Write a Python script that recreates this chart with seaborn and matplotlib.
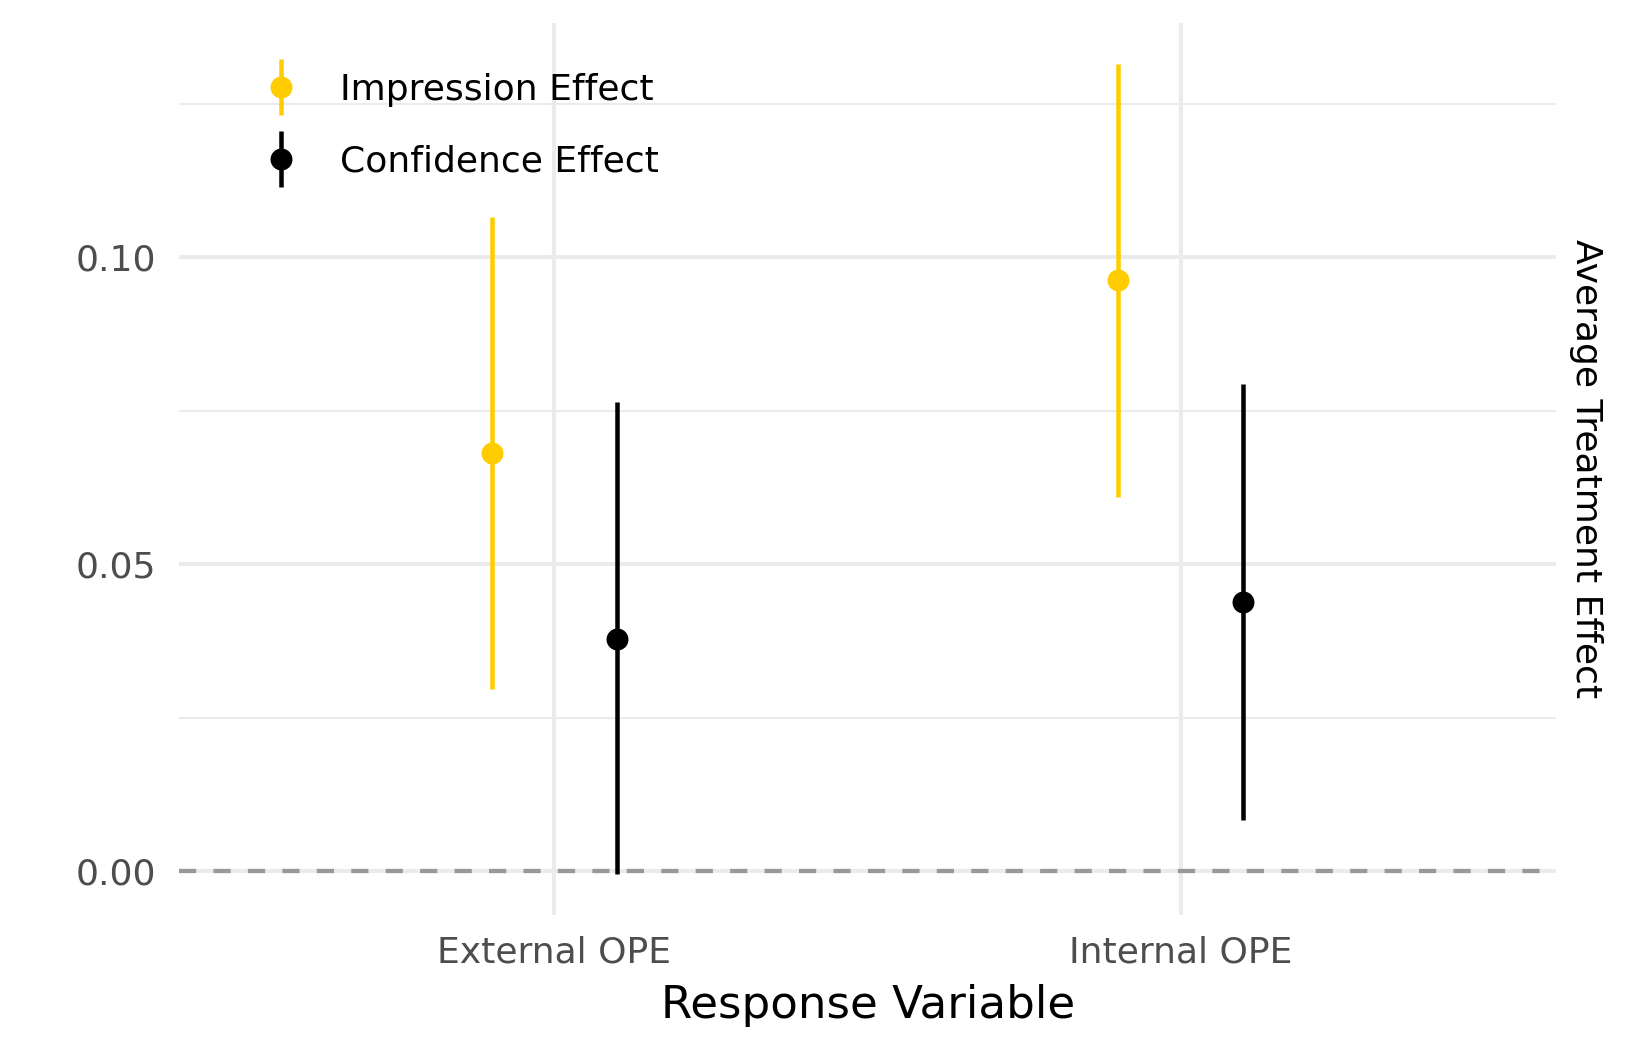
import pandas as pd
import seaborn as sns
import matplotlib.pyplot as plt
from matplotlib.lines import Line2D
from matplotlib.ticker import FixedLocator

# values
responses = ["External OPE", "Internal OPE"]
effects = ["Impression Effect", "Confidence Effect"]
colors = ["#FFCC00", "#000000"]

impression_est = [0.0681, 0.0963]
impression_lo = [0.0297, 0.0610]
impression_hi = [0.1066, 0.1315]

confidence_est = [0.0378, 0.0439]
confidence_lo = [-0.0005, 0.0084]
confidence_hi = [0.0764, 0.0793]

rows = []
for eff, est, lo, hi in [
    (effects[0], impression_est, impression_lo, impression_hi),
    (effects[1], confidence_est, confidence_lo, confidence_hi),
]:
    for resp, e, l, h in zip(responses, est, lo, hi):
        rows.append({"response": resp, "effect": eff, "estimate": e, "lower": l, "upper": h})
df = pd.DataFrame(rows)

sns.set_theme(style="whitegrid")
plt.rcParams["font.family"] = ["DejaVu Sans"]

fig = plt.figure(figsize=(16.49, 10.49), dpi=100)
ax = fig.add_axes([0.1084, 0.1277, 0.9439 - 0.1084, 0.978 - 0.1277])

palette = dict(zip(effects, colors))
sns.pointplot(
    data=df, x="response", y="estimate", hue="effect",
    order=responses, hue_order=effects, palette=palette,
    dodge=0.2, linestyle="none", errorbar=None,
    markersize=15.8, markeredgewidth=0, legend=False, ax=ax,
)

# intervals at the same dodged positions seaborn used
point_lines = list(ax.lines)
for line, eff in zip(point_lines, effects):
    xs = line.get_xdata()
    sub = df[df["effect"] == eff].set_index("response").loc[responses]
    ax.vlines(xs, sub["lower"], sub["upper"], color=palette[eff], lw=3.25, zorder=3)
    line.set_zorder(4)

ax.axhline(0, color="#999999", lw=3.1, ls=(0, (4, 4)), zorder=2.5)

ax.set_xlim(-0.6, 1.6)
ax.set_ylim(-0.0071, 0.1381)
ax.set_yticks([0.0, 0.05, 0.10])
ax.set_yticklabels(["0.00", "0.05", "0.10"])
ax.yaxis.set_minor_locator(FixedLocator([0.025, 0.075, 0.125]))

for s in ax.spines.values():
    s.set_visible(False)
ax.set_facecolor("white")
ax.grid(True, which="major", color="#EBEBEB", lw=2.9)
ax.grid(True, which="minor", axis="y", color="#EBEBEB", lw=1.45)
ax.grid(False, which="minor", axis="x")
ax.set_axisbelow(True)
ax.tick_params(axis="both", which="both", length=0, labelsize=26, labelcolor="#4D4D4D")
ax.tick_params(axis="y", pad=16)
ax.tick_params(axis="x", pad=15)

ax.set_xlabel("Response Variable", fontsize=32.5, color="black", labelpad=10)
ax.set_ylabel("Average Treatment Effect", fontsize=26, color="black", rotation=270)
ax.yaxis.set_label_position("right")
ax.yaxis.label.set_ha("center")
ax.yaxis.label.set_va("center")
ax.yaxis.set_label_coords(1.0215, 0.5)

handles = []
for eff in effects:
    bar = Line2D([], [], ls="none", marker="|", ms=41, mew=3.25, color=palette[eff])
    dot = Line2D([], [], ls="none", marker="o", ms=15.8, mew=0, color=palette[eff])
    handles.append((bar, dot))
ax.legend(
    handles, effects, loc="upper left", bbox_to_anchor=(0.0611, 0.9445),
    frameon=False, fontsize=26, labelcolor="black", handlelength=1.0,
    handletextpad=1.14, labelspacing=1.06, borderpad=0, borderaxespad=0,
)

fig.savefig("out.png", dpi=100, facecolor="white")
